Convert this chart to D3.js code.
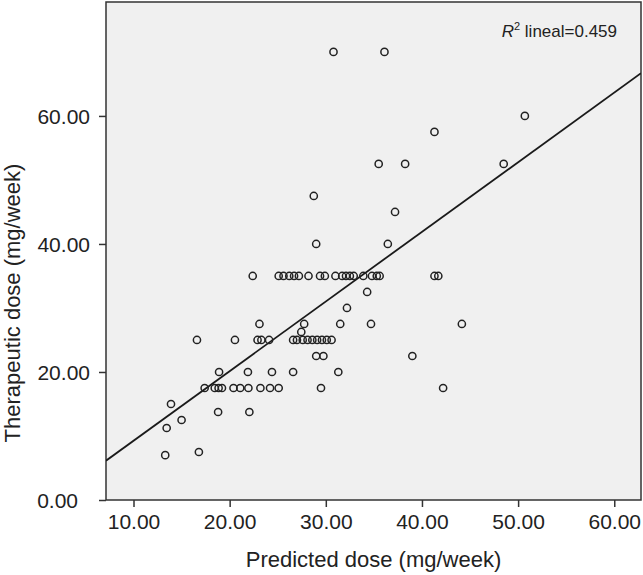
<!DOCTYPE html>
<html>
<head>
<meta charset="utf-8">
<script src="https://cdn.jsdelivr.net/npm/d3@7"></script>
<style>
  body { margin: 0; background: #fff; }
  svg { display: block; font-family: "Liberation Sans", Arial, sans-serif; }
</style>
</head>
<body>
<svg width="643" height="575"></svg>
<script>
// predicted vs therapeutic dose (mg/week)
var predictedDose = [
  30.8, 36.1,
  50.7,
  41.3,
  35.5, 38.25, 48.5,
  28.75,
  37.2,
  29.0, 36.45,
  22.4, 25.1, 25.6, 26.2, 26.7, 27.2, 28.2, 29.4, 29.9, 31.0, 31.7, 32.1, 32.5, 32.9, 33.9, 34.8, 35.3, 35.6, 41.3, 41.7,
  34.3,
  32.2,
  23.1, 27.75, 31.5, 34.7, 44.15,
  27.45,
  16.6, 20.55, 22.9, 23.3, 24.1, 26.6, 27.0, 27.6, 28.1, 28.6, 29.1, 29.6, 30.1, 30.6,
  29.0, 29.75, 39.0,
  18.9, 21.9, 24.4, 26.6, 31.3,
  17.4, 18.45, 18.85, 19.2, 20.4, 21.1, 21.95, 23.2, 24.2, 25.1, 29.5, 42.2,
  13.9,
  18.8, 22.05,
  15.0,
  13.45,
  16.8,
  13.3
];
var therapeuticDose = [
  70, 70,
  60,
  57.5,
  52.5, 52.5, 52.5,
  47.5,
  45,
  40, 40,
  35, 35, 35, 35, 35, 35, 35, 35, 35, 35, 35, 35, 35, 35, 35, 35, 35, 35, 35, 35,
  32.5,
  30,
  27.5, 27.5, 27.5, 27.5, 27.5,
  26.25,
  25, 25, 25, 25, 25, 25, 25, 25, 25, 25, 25, 25, 25, 25,
  22.5, 22.5, 22.5,
  20, 20, 20, 20, 20,
  17.5, 17.5, 17.5, 17.5, 17.5, 17.5, 17.5, 17.5, 17.5, 17.5, 17.5, 17.5,
  15,
  13.75, 13.75,
  12.5,
  11.25,
  7.5,
  7
];
var xTicks = [10, 20, 30, 40, 50, 60];
var yTicks = [0, 20, 40, 60];
// linear fit as printed by the chart
var fitIntercept = -1.63, fitSlope = 1.088;
var r2Text = "0.459";

var svg = d3.select("svg");
var pLeft = 106, pRight = 641, pTop = 2, pBottom = 500;

var x = d3.scaleLinear().domain([7.14, 62.78]).range([pLeft, pRight]);
var y = d3.scaleLinear().domain([0, 77.8]).range([pBottom, pTop]);

// plot panel
svg.append("rect")
  .attr("x", pLeft).attr("y", pTop)
  .attr("width", pRight - pLeft).attr("height", pBottom - pTop)
  .attr("fill", "#f0f0f0")
  .attr("stroke", "#333").attr("stroke-width", 1.5);

// x axis
var xAxis = svg.append("g")
  .attr("transform", "translate(0," + pBottom + ")")
  .call(d3.axisBottom(x).tickValues(xTicks).tickSize(7).tickSizeOuter(0)
    .tickFormat(d3.format(".2f")));
xAxis.select(".domain").remove();
xAxis.selectAll("line").attr("stroke", "#333").attr("stroke-width", 1.5);
xAxis.selectAll("text").attr("font-size", 21).attr("fill", "#222")
  .attr("font-family", "Liberation Sans, Arial, sans-serif")
  .attr("dy", "0").attr("y", 29);

// y axis
var yAxis = svg.append("g")
  .attr("transform", "translate(" + pLeft + ",0)")
  .call(d3.axisLeft(y).tickValues(yTicks).tickSize(7).tickSizeOuter(0)
    .tickFormat(d3.format(".2f")));
yAxis.select(".domain").remove();
yAxis.selectAll("line").attr("stroke", "#333").attr("stroke-width", 1.5);
yAxis.selectAll("text").attr("font-size", 21).attr("fill", "#222")
  .attr("font-family", "Liberation Sans, Arial, sans-serif")
  .attr("x", d => d === 0 ? -28 : -16)
  .attr("dy", "0.36em");

// fit line, clipped to the panel
svg.append("clipPath").attr("id", "clip")
  .append("rect").attr("x", pLeft).attr("y", pTop)
  .attr("width", pRight - pLeft).attr("height", pBottom - pTop);

var xd = x.domain();
svg.append("line")
  .attr("clip-path", "url(#clip)")
  .attr("x1", x(xd[0])).attr("y1", y(fitIntercept + fitSlope * xd[0]))
  .attr("x2", x(xd[1])).attr("y2", y(fitIntercept + fitSlope * xd[1]))
  .attr("stroke", "#1a1a1a").attr("stroke-width", 1.8);

// points
svg.append("g").selectAll("circle")
  .data(predictedDose.map((p, i) => [p, therapeuticDose[i]]))
  .join("circle")
  .attr("cx", d => x(d[0]))
  .attr("cy", d => y(d[1]))
  .attr("r", 3.6)
  .attr("fill", "none")
  .attr("stroke", "#222")
  .attr("stroke-width", 1.5);

// R2 label
var lab = svg.append("text")
  .attr("x", 617).attr("y", 37)
  .attr("text-anchor", "end")
  .attr("font-size", 17).attr("fill", "#222");
lab.append("tspan").attr("font-style", "italic").text("R");
lab.append("tspan").attr("font-size", 11).attr("dy", -7).text("2");
lab.append("tspan").attr("dy", 7).text(" lineal=" + r2Text);

// axis titles
svg.append("text")
  .attr("x", (pLeft + pRight) / 2).attr("y", 567)
  .attr("text-anchor", "middle")
  .attr("font-size", 22).attr("fill", "#222")
  .text("Predicted dose (mg/week)");

svg.append("text")
  .attr("transform", "translate(20,303) rotate(-90)")
  .attr("text-anchor", "middle")
  .attr("font-size", 22).attr("fill", "#222")
  .text("Therapeutic dose (mg/week)");
</script>
</body>
</html>
